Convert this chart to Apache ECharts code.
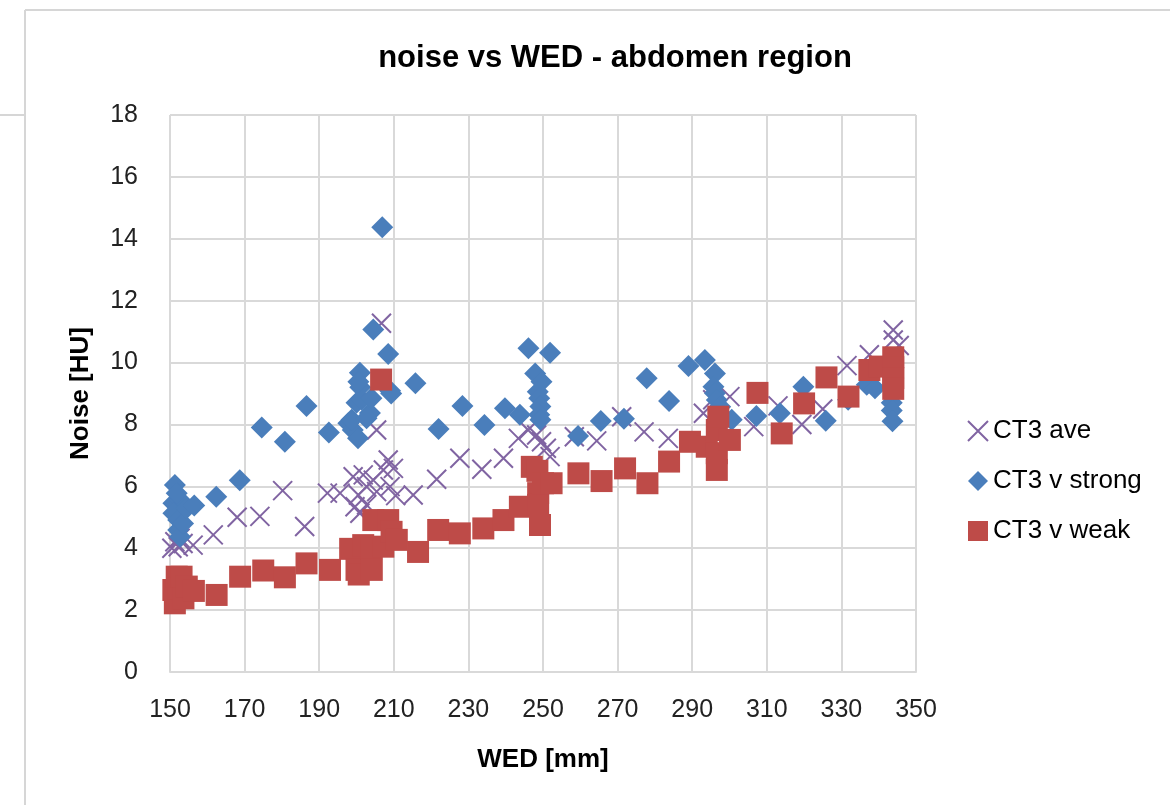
<!DOCTYPE html>
<html>
<head>
<meta charset="utf-8">
<script src="https://cdn.jsdelivr.net/npm/echarts@6/dist/echarts.min.js"></script>
<style>
  html, body { margin: 0; padding: 0; background: #fff; }
  #chart { width: 1170px; height: 805px; }
</style>
</head>
<body>
<div id="chart"></div>
<script>
// WED [mm] / noise [HU] pairs
const ctAve = [
  [150.5, 4.0], [151.3, 4.21], [152.2, 4.05], [152.7, 4.32], [153.5, 4.15], [156.2, 4.1],
  [161.6, 4.43], [168, 5.0], [174.1, 5.03], [180.2, 5.86], [186.1, 4.7], [192.2, 5.78],
  [195.6, 5.78], [199.1, 6.31], [199.6, 5.34], [200.5, 5.72], [200.9, 5.13], [201.8, 6.37],
  [202.7, 5.99], [202.7, 5.4], [204.5, 6.2], [205.4, 5.83], [205.4, 7.82], [206.7, 11.27],
  [207.2, 6.53], [208.5, 6.85], [209, 5.99], [209.9, 6.58], [210.5, 5.7], [215.2, 5.72],
  [221.5, 6.23], [227.7, 6.91], [233.6, 6.55], [239.4, 6.91], [243.4, 7.55], [246, 7.82],
  [248.3, 7.66], [249.6, 7.44], [250.9, 7.23], [251.9, 6.96], [258.4, 7.6], [264.4, 7.47],
  [271.1, 8.25], [277.1, 7.76], [283.6, 7.55], [293, 8.36], [295.5, 8.8], [297.5, 7.9],
  [300.1, 8.9], [306.5, 7.93], [313, 8.6], [319.4, 8.0], [325, 8.5], [331.5, 9.9],
  [337.5, 10.25], [343.9, 11.05], [343.9, 10.73], [345.5, 10.55]
]

const ctStrong = [
  [151.3, 6.04], [150.9, 5.45], [152.7, 5.56], [151.8, 5.78], [150.9, 5.13], [152.2, 4.91],
  [152.2, 4.59], [152.7, 4.37], [153.5, 4.8], [154.5, 5.3], [156.5, 5.38], [162.4, 5.66],
  [168.7, 6.2], [174.6, 7.9], [180.8, 7.44], [186.6, 8.6], [192.6, 7.74], [197.8, 8.04],
  [199, 7.82], [198.7, 8.15], [200.4, 7.55], [200, 8.7], [201.4, 8.8], [201, 9.2],
  [200.9, 9.67], [200.5, 9.38], [203.6, 8.37], [202.7, 8.2], [204, 8.85], [204.5, 11.07],
  [206.9, 14.37], [208.5, 10.28], [209, 9.09], [209.3, 9.0], [215.8, 9.33], [222, 7.85],
  [228.4, 8.6], [234.3, 7.98], [239.8, 8.52], [243.8, 8.31], [246.1, 10.46], [247.9, 9.65],
  [249.6, 9.38], [248.6, 9.06], [249, 8.85], [249.3, 8.58], [249, 8.31], [249.3, 8.15],
  [251.9, 10.32], [259.4, 7.63], [265.5, 8.11], [271.7, 8.18], [277.8, 9.49], [283.8, 8.76],
  [289, 9.89], [293.4, 10.08], [296.1, 9.65], [295.7, 9.22], [296.1, 9.01], [296.6, 8.79],
  [297.5, 8.57], [300.6, 8.15], [307.2, 8.27], [313.5, 8.36], [319.8, 9.22], [325.8, 8.12],
  [331.8, 8.8], [336.8, 9.28], [339, 9.17], [343.5, 8.7], [343.5, 8.45], [343.7, 8.1]
]

const ctWeak = [
  [150.9, 2.65], [151.3, 2.22], [151.8, 3.08], [152.2, 2.7], [153.1, 3.08], [153.6, 2.38],
  [154.5, 2.76], [156.4, 2.62], [162.5, 2.49], [168.8, 3.08], [175, 3.28], [180.8, 3.06],
  [186.6, 3.51], [192.9, 3.3], [198.3, 3.98], [200, 3.3], [200.6, 3.15], [201.8, 4.1],
  [204.1, 4.0], [204.1, 3.3], [204.5, 4.91], [206.6, 9.45], [207.2, 4.05], [208.5, 4.91],
  [209.4, 4.53], [210.8, 4.27], [216.5, 3.88], [221.9, 4.59], [227.7, 4.48], [234, 4.64],
  [239.4, 4.91], [243.8, 5.34], [247, 6.63], [248.5, 6.5], [248.7, 5.78], [248.7, 5.4],
  [249.2, 4.75], [250, 6.1], [252.3, 6.1], [259.5, 6.42], [265.7, 6.17], [272, 6.58],
  [278, 6.1], [283.8, 6.8], [289.4, 7.44], [293.9, 7.28], [296.6, 7.82], [297, 8.25],
  [296.6, 7.07], [296.6, 6.53], [300.1, 7.5], [307.5, 9.02], [314, 7.71], [320, 8.68],
  [326, 9.52], [331.9, 8.9], [337.5, 9.76], [340.3, 9.87], [343.9, 10.17], [343.9, 9.85],
  [343.9, 9.5], [343.9, 9.15]
]

const seriesNames = ['CT3 ave', 'CT3 v strong', 'CT3 v weak']

const font = 'Liberation Sans, Arial, sans-serif'
const gridGray = '#d9d9d9'
const crossPath = 'path://M0,0L10,10M10,0L0,10'

const myChart = echarts.init(document.getElementById('chart'))

const option = {
  backgroundColor: '#fff',
  animation: false,
  title: {
    text: 'noise vs WED - abdomen region',
    left: 610,
    top: 38,
    textAlign: 'center',
    textStyle: { fontFamily: font, fontSize: 31, fontWeight: 'bold', color: '#000' }
  },
  legend: {
    orient: 'vertical',
    left: 962,
    top: 413,
    itemGap: 24,
    itemWidth: 20,
    itemHeight: 20,
    textStyle: { fontFamily: font, fontSize: 26, color: '#000', padding: [0, 0, 0, 0] },
    data: [
      { name: seriesNames[0] },
      { name: seriesNames[1] },
      { name: seriesNames[2] }
    ]
  },
  grid: { left: 170, right: 254, top: 115, bottom: 133 },
  xAxis: {
    type: 'value',
    min: 150,
    max: 350,
    interval: 20,
    name: 'WED [mm]',
    nameLocation: 'middle',
    nameGap: 75,
    nameTextStyle: { fontFamily: font, fontSize: 26, fontWeight: 'bold', color: '#000' },
    axisLine: { lineStyle: { color: gridGray, width: 2 } },
    axisTick: { show: false },
    axisLabel: { fontFamily: font, fontSize: 25, color: '#222', margin: 26 },
    splitLine: { lineStyle: { color: gridGray, width: 2 } }
  },
  yAxis: {
    type: 'value',
    min: 0,
    max: 18,
    interval: 2,
    name: 'Noise [HU]',
    nameLocation: 'middle',
    nameRotate: 90,
    nameGap: 76,
    nameTextStyle: { fontFamily: font, fontSize: 26, fontWeight: 'bold', color: '#000' },
    axisLine: { show: false },
    axisTick: { show: false },
    axisLabel: { fontFamily: font, fontSize: 25, color: '#222', margin: 32 },
    splitLine: { lineStyle: { color: gridGray, width: 2 } }
  },
  series: [
    {
      name: seriesNames[0],
      type: 'scatter',
      data: ctAve,
      symbol: crossPath,
      symbolSize: 19,
      itemStyle: { color: 'transparent', borderColor: '#8064A2', borderWidth: 2, opacity: 1 }
    },
    {
      name: seriesNames[1],
      type: 'scatter',
      data: ctStrong,
      symbol: 'diamond',
      symbolSize: 22,
      itemStyle: { color: '#4A7EBB', opacity: 1 }
    },
    {
      name: seriesNames[2],
      type: 'scatter',
      data: ctWeak,
      symbol: 'rect',
      symbolSize: 22,
      itemStyle: { color: '#BE4B48', opacity: 1 }
    }
  ],
  graphic: [
    { type: 'line', shape: { x1: 25, y1: 10, x2: 1170, y2: 10 }, style: { stroke: '#d6d6d6', lineWidth: 2 } },
    { type: 'line', shape: { x1: 25, y1: 10, x2: 25, y2: 805 }, style: { stroke: '#d6d6d6', lineWidth: 2 } },
    { type: 'line', shape: { x1: 0, y1: 115, x2: 25, y2: 115 }, style: { stroke: '#d6d6d6', lineWidth: 2 } }
  ]
}

myChart.setOption(option)
</script>
</body>
</html>
